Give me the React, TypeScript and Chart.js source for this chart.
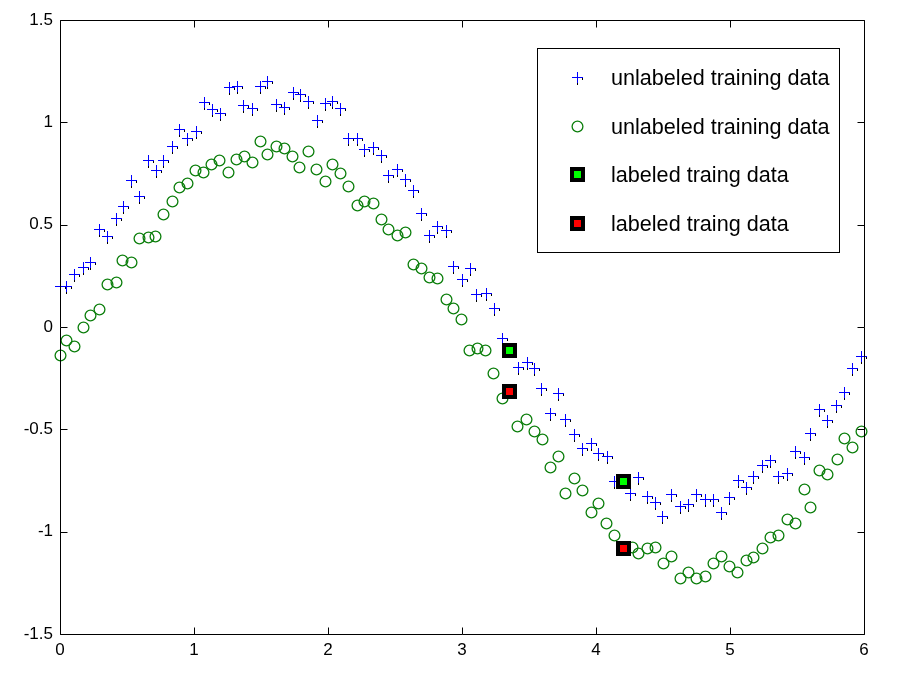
import React, { useEffect, useRef } from "react";
import { Chart, registerables } from "chart.js";

Chart.register(...registerables);

// ---- Data ----
const xTicks = [0, 1, 2, 3, 4, 5, 6];
const xTickLabels = ["0", "1", "2", "3", "4", "5", "6"];
const yTicks = [-1.5, -1, -0.5, 0, 0.5, 1, 1.5];
const yTickLabels = ["-1.5", "-1", "-0.5", "0", "0.5", "1", "1.5"];

const seriesLabels = [
  "unlabeled training data",
  "unlabeled training data",
  "labeled traing data",
  "labeled traing data",
];

const blueX = [
  0.0, 0.045, 0.104, 0.17, 0.224, 0.293, 0.353, 0.418, 0.472, 0.53, 0.592, 0.659, 0.716, 0.771, 0.836,
  0.886, 0.946, 1.015, 1.075, 1.134, 1.194, 1.259, 1.319, 1.363, 1.43, 1.493, 1.543, 1.612, 1.674, 1.736,
  1.791, 1.853, 1.915, 1.978, 2.027, 2.09, 2.152, 2.214, 2.271, 2.338, 2.396, 2.45, 2.513, 2.575, 2.637,
  2.694, 2.756, 2.811, 2.88, 2.935, 2.998, 3.06, 3.104, 3.179, 3.239, 3.301, 3.416, 3.483, 3.54, 3.59,
  3.657, 3.719, 3.769, 3.836, 3.898, 3.963, 4.017, 4.08, 4.134, 4.254, 4.316, 4.378, 4.44, 4.495, 4.562,
  4.628, 4.69, 4.748, 4.811, 4.875, 4.931, 4.995, 5.058, 5.122, 5.175, 5.236, 5.3, 5.358, 5.422, 5.485,
  5.549, 5.6, 5.663, 5.727, 5.79, 5.849, 5.91, 5.976,
];
const blueY = [
  0.2, 0.2, 0.26, 0.295, 0.32, 0.477, 0.445, 0.531, 0.593, 0.718, 0.64, 0.816, 0.767, 0.816, 0.884,
  0.966, 0.922, 0.957, 1.1, 1.063, 1.047, 1.171, 1.177, 1.085, 1.068, 1.177, 1.203, 1.089, 1.073, 1.15,
  1.137, 1.106, 1.011, 1.096, 1.106, 1.068, 0.922, 0.922, 0.87, 0.878, 0.84, 0.743, 0.772, 0.723, 0.669,
  0.555, 0.449, 0.493, 0.474, 0.3, 0.233, 0.29, 0.16, 0.165, 0.091, -0.055, -0.194, -0.17, -0.202, -0.3,
  -0.419, -0.324, -0.451, -0.524, -0.593, -0.565, -0.614, -0.63, -0.751, -0.812, -0.731, -0.826, -0.853, -0.925, -0.818,
  -0.873, -0.865, -0.818, -0.84, -0.84, -0.903, -0.831, -0.748, -0.782, -0.728, -0.673, -0.652, -0.728, -0.711, -0.607,
  -0.635, -0.518, -0.402, -0.453, -0.382, -0.318, -0.202, -0.144,
];

const greenX = [
  0.0, 0.045, 0.107, 0.169, 0.224, 0.289, 0.353, 0.415, 0.465, 0.53, 0.59, 0.654, 0.709, 0.771, 0.833,
  0.886, 0.948, 1.01, 1.07, 1.129, 1.189, 1.254, 1.313, 1.371, 1.43, 1.493, 1.547, 1.61, 1.672, 1.734,
  1.786, 1.848, 1.91, 1.975, 2.027, 2.09, 2.152, 2.214, 2.271, 2.334, 2.396, 2.45, 2.513, 2.575, 2.637,
  2.692, 2.754, 2.816, 2.878, 2.93, 2.993, 3.055, 3.11, 3.172, 3.234, 3.296, 3.413, 3.475, 3.54, 3.594,
  3.657, 3.719, 3.769, 3.836, 3.898, 3.96, 4.012, 4.075, 4.134, 4.266, 4.316, 4.378, 4.44, 4.498, 4.562,
  4.626, 4.684, 4.743, 4.811, 4.87, 4.931, 4.99, 5.053, 5.116, 5.175, 5.236, 5.3, 5.358, 5.422, 5.485,
  5.549, 5.6, 5.663, 5.727, 5.795, 5.849, 5.91, 5.976,
];
const greenY = [
  -0.137, -0.064, -0.091, -0.002, 0.059, 0.086, 0.21, 0.218, 0.327, 0.319, 0.436, 0.438, 0.445, 0.553, 0.614,
  0.684, 0.703, 0.767, 0.759, 0.795, 0.816, 0.759, 0.822, 0.834, 0.808, 0.91, 0.844, 0.884, 0.876, 0.835,
  0.78, 0.861, 0.772, 0.712, 0.795, 0.754, 0.69, 0.596, 0.617, 0.607, 0.526, 0.477, 0.449, 0.466, 0.308,
  0.287, 0.246, 0.238, 0.135, 0.094, 0.039, -0.112, -0.104, -0.112, -0.223, -0.345, -0.484, -0.448, -0.508, -0.547,
  -0.682, -0.629, -0.812, -0.736, -0.796, -0.902, -0.861, -0.956, -1.016, -1.076, -1.106, -1.081, -1.073, -1.152, -1.118,
  -1.226, -1.197, -1.226, -1.217, -1.152, -1.118, -1.168, -1.197, -1.139, -1.123, -1.078, -1.026, -1.015, -0.936, -0.959,
  -0.79, -0.881, -0.698, -0.72, -0.643, -0.543, -0.587, -0.51,
];

const labeledGreenX = [3.351, 4.199];
const labeledGreenY = [-0.112, -0.751];
const labeledRedX = [3.351, 4.199];
const labeledRedY = [-0.311, -1.081];

const FONT = '"Liberation Sans", Arial, Helvetica, sans-serif';

type Marker = { img: HTMLCanvasElement; c: number };

function makePlus(): Marker {
  const c = document.createElement("canvas");
  c.width = 15;
  c.height = 15;
  const g = c.getContext("2d")!;
  const m = 6;
  g.fillStyle = "#000000";
  g.fillRect(m, m + 5, 1, 3);
  g.fillRect(m + 5, m, 1, 3);
  g.fillStyle = "#0000ff";
  g.fillRect(m - 5, m, 11, 1);
  g.fillRect(m, m - 5, 1, 11);
  return { img: c, c: m };
}

function makeCircle(color: string): Marker {
  const c = document.createElement("canvas");
  c.width = 15;
  c.height = 15;
  const g = c.getContext("2d")!;
  g.strokeStyle = color;
  g.lineWidth = 1.3;
  g.beginPath();
  g.arc(7.5, 7.5, 5.4, 0, Math.PI * 2);
  g.stroke();
  return { img: c, c: 7 };
}

function makeSquare(inner: string): Marker {
  const c = document.createElement("canvas");
  c.width = 17;
  c.height = 17;
  const g = c.getContext("2d")!;
  g.fillStyle = "#000000";
  g.fillRect(1, 1, 15, 15);
  g.fillStyle = inner;
  g.fillRect(5, 5, 7, 7);
  return { img: c, c: 8 };
}

export default function App() {
  const ref = useRef<HTMLCanvasElement | null>(null);

  useEffect(() => {
    document.body.style.margin = "0";
    const canvas = ref.current;
    if (!canvas) return;

    const markers: Marker[] = [
      makePlus(),
      makeCircle("#0d7f0d"),
      makeSquare("#00ff00"),
      makeSquare("#ff0000"),
    ];

    const markerPlugin = {
      id: "crispMarkers",
      afterDatasetsDraw(chart: any) {
        const ctx = chart.ctx as CanvasRenderingContext2D;
        ctx.save();
        for (let i = 0; i < chart.data.datasets.length; i++) {
          const meta = chart.getDatasetMeta(i);
          const mk = markers[i];
          for (const el of meta.data) {
            const x = Math.round(el.x);
            const y = Math.round(el.y);
            ctx.drawImage(mk.img, x - mk.c, y - mk.c);
          }
        }
        ctx.restore();
      },
    };

    const framePlugin = {
      id: "matlabFrame",
      afterDraw(chart: any) {
        const ctx = chart.ctx as CanvasRenderingContext2D;
        const { left, right, top, bottom } = chart.chartArea;
        const L = Math.round(left) + 0.5;
        const R = Math.round(right) + 0.5;
        const T = Math.round(top) + 0.5;
        const B = Math.round(bottom) + 0.5;
        ctx.save();
        ctx.strokeStyle = "#000";
        ctx.lineWidth = 1;
        ctx.beginPath();
        ctx.rect(L, T, R - L, B - T);
        const xs = chart.scales.x;
        const ys = chart.scales.y;
        const tl = 7;
        for (const v of xTicks) {
          const p = Math.round(xs.getPixelForValue(v)) + 0.5;
          ctx.moveTo(p, B);
          ctx.lineTo(p, B - tl);
          ctx.moveTo(p, T);
          ctx.lineTo(p, T + tl);
        }
        for (const v of yTicks) {
          const p = Math.round(ys.getPixelForValue(v)) + 0.5;
          ctx.moveTo(L, p);
          ctx.lineTo(L + tl, p);
          ctx.moveTo(R, p);
          ctx.lineTo(R - tl, p);
        }
        ctx.stroke();

        // legend box
        const bx = 537.5, by = 48.5, bw = 302, bh = 204;
        ctx.fillStyle = "#fff";
        ctx.fillRect(bx, by, bw, bh);
        ctx.strokeRect(bx, by, bw, bh);
        const baselines = [85, 133.5, 182, 230.5];
        ctx.font = `21.6px ${FONT}`;
        ctx.fillStyle = "#000";
        ctx.textBaseline = "alphabetic";
        ctx.textAlign = "left";
        seriesLabels.forEach((lab, i) => {
          const mk = markers[i];
          const my = Math.round(baselines[i] - 8);
          ctx.drawImage(mk.img, 577 - mk.c, my - mk.c);
          ctx.fillText(lab, 611, baselines[i]);
        });
        ctx.restore();
      },
    };

    const chart = new Chart(canvas, {
      type: "scatter",
      data: {
        datasets: [
          {
            label: seriesLabels[0],
            data: blueX.map((x, i) => ({ x, y: blueY[i] })),
            pointRadius: 0,
            pointHoverRadius: 0,
          },
          {
            label: seriesLabels[1],
            data: greenX.map((x, i) => ({ x, y: greenY[i] })),
            pointRadius: 0,
            pointHoverRadius: 0,
          },
          {
            label: seriesLabels[2],
            data: labeledGreenX.map((x, i) => ({ x, y: labeledGreenY[i] })),
            pointRadius: 0,
            pointHoverRadius: 0,
          },
          {
            label: seriesLabels[3],
            data: labeledRedX.map((x, i) => ({ x, y: labeledRedY[i] })),
            pointRadius: 0,
            pointHoverRadius: 0,
          },
        ],
      },
      options: {
        animation: false,
        responsive: false,
        devicePixelRatio: 1,
        events: [],
        layout: { padding: { left: 0, top: 20, right: 58, bottom: 0 } },
        plugins: {
          legend: { display: false },
          tooltip: { enabled: false },
          title: { display: false },
        },
        scales: {
          x: {
            type: "linear",
            min: 0,
            max: 6,
            grid: { display: false, drawTicks: false },
            border: { display: false },
            afterBuildTicks: (s: any) => {
              s.ticks = xTicks.map((v) => ({ value: v }));
            },
            afterFit: (s: any) => {
              s.height = 56;
            },
            ticks: {
              padding: 6,
              color: "#000",
              font: { family: FONT, size: 17 },
              maxRotation: 0,
              autoSkip: false,
              callback: (v: any) => xTickLabels[xTicks.indexOf(Number(v))] ?? "",
            },
          },
          y: {
            type: "linear",
            min: -1.5,
            max: 1.5,
            grid: { display: false, drawTicks: false },
            border: { display: false },
            afterBuildTicks: (s: any) => {
              s.ticks = yTicks.map((v) => ({ value: v }));
            },
            afterFit: (s: any) => {
              s.width = 60;
            },
            ticks: {
              padding: 7,
              color: "#000",
              font: { family: FONT, size: 17 },
              autoSkip: false,
              callback: (v: any) => yTickLabels[yTicks.indexOf(Number(v))] ?? "",
            },
          },
        },
      },
      plugins: [markerPlugin, framePlugin],
    });

    return () => {
      chart.destroy();
    };
  }, []);

  return (
    <div style={{ width: 922, height: 690, background: "#fff" }}>
      <canvas ref={ref} width={922} height={690} style={{ display: "block", width: 922, height: 690 }} />
    </div>
  );
}
